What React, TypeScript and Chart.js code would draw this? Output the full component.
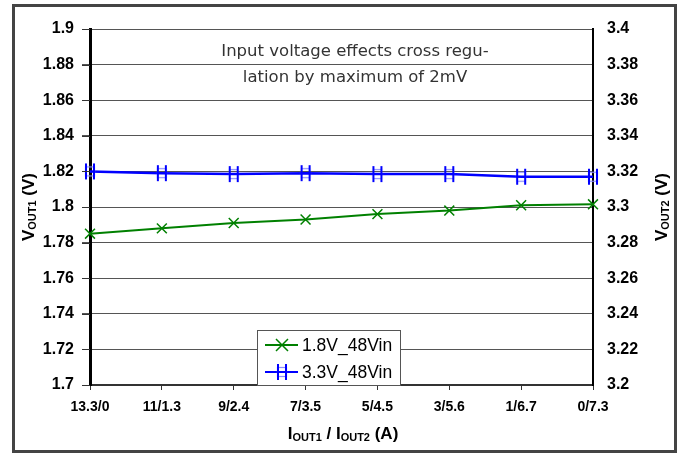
import React, { useEffect, useRef } from "react";
import { Chart, registerables } from "chart.js";

Chart.register(...registerables);

const categories = ["13.3/0", "11/1.3", "9/2.4", "7/3.5", "5/4.5", "3/5.6", "1/6.7", "0/7.3"];
const vout1Values = [1.785, 1.788, 1.791, 1.793, 1.796, 1.798, 1.801, 1.8015];
const vout2Values = [3.32, 3.319, 3.3185, 3.319, 3.3185, 3.3185, 3.317, 3.317];
const seriesNames = ["1.8V_48Vin", "3.3V_48Vin"];
const noteLines = ["Input voltage effects cross regu-", "lation by maximum of 2mV"];

const W = 681;
const H = 454;
const GREEN = "#008000";
const BLUE = "#0000ff";

function makeBlueMarker(): HTMLCanvasElement {
  const c = document.createElement("canvas");
  c.width = 16;
  c.height = 18;
  const ctx = c.getContext("2d")!;
  ctx.strokeStyle = "#8c8cff";
  ctx.lineWidth = 1.2;
  ctx.strokeRect(3.5, 4.5, 9, 9);
  ctx.strokeStyle = BLUE;
  ctx.lineWidth = 2;
  ctx.beginPath();
  ctx.moveTo(4, 1);
  ctx.lineTo(4, 17);
  ctx.moveTo(12, 1);
  ctx.lineTo(12, 17);
  ctx.stroke();
  return c;
}

function drawSubText(
  ctx: CanvasRenderingContext2D,
  parts: { t: string; sub?: boolean }[],
  big: number,
  small: number
) {
  let total = 0;
  const widths: number[] = [];
  for (const p of parts) {
    ctx.font = `bold ${p.sub ? small : big}px "Liberation Sans", Arial, sans-serif`;
    const w = ctx.measureText(p.t).width;
    widths.push(w);
    total += w;
  }
  let x = -total / 2;
  ctx.textAlign = "left";
  ctx.textBaseline = "alphabetic";
  parts.forEach((p, i) => {
    ctx.font = `bold ${p.sub ? small : big}px "Liberation Sans", Arial, sans-serif`;
    ctx.fillText(p.t, x, p.sub ? big * 0.36 + 2 : big * 0.36);
    x += widths[i];
  });
}

export default function App() {
  const ref = useRef<HTMLCanvasElement>(null);

  useEffect(() => {
    document.body.style.margin = "0";
    const blueMarker = makeBlueMarker();

    const decor = {
      id: "decor",
      beforeDraw(chart: any) {
        const ctx = chart.ctx as CanvasRenderingContext2D;
        ctx.save();
        ctx.fillStyle = "#fff";
        ctx.fillRect(0, 0, W, H);
        ctx.strokeStyle = "#444";
        ctx.lineWidth = 3;
        ctx.strokeRect(13.5, 5.5, 662, 446);
        ctx.restore();
      },
      afterDraw(chart: any) {
        const ctx = chart.ctx as CanvasRenderingContext2D;
        const ca = chart.chartArea;
        ctx.save();
        // tick marks on left axis
        ctx.strokeStyle = "#333";
        ctx.lineWidth = 1;
        const ys = chart.scales.y;
        ys.ticks.forEach((t: any) => {
          const py = Math.round(ys.getPixelForValue(t.value)) + 0.5;
          ctx.beginPath();
          ctx.moveTo(ca.left - 8, py);
          ctx.lineTo(ca.left, py);
          ctx.stroke();
        });

        // note text
        ctx.fillStyle = "#333";
        ctx.font = '16.5px "DejaVu Sans", sans-serif';
        ctx.textAlign = "center";
        ctx.textBaseline = "middle";
        ctx.fillText(noteLines[0], 355, 52);
        ctx.fillText(noteLines[1], 355, 78);

        // axis titles
        ctx.fillStyle = "#000";
        ctx.save();
        ctx.translate(28, (ca.top + ca.bottom) / 2);
        ctx.rotate(-Math.PI / 2);
        drawSubText(ctx, [{ t: "V" }, { t: "OUT1", sub: true }, { t: " (V)" }], 17, 11);
        ctx.restore();

        ctx.save();
        ctx.translate(661, (ca.top + ca.bottom) / 2);
        ctx.rotate(-Math.PI / 2);
        drawSubText(ctx, [{ t: "V" }, { t: "OUT2", sub: true }, { t: " (V)" }], 17, 11);
        ctx.restore();

        ctx.save();
        ctx.translate(343, 433);
        drawSubText(
          ctx,
          [{ t: "I" }, { t: "OUT1", sub: true }, { t: " / I" }, { t: "OUT2", sub: true }, { t: " (A)" }],
          17,
          11
        );
        ctx.restore();

        // legend
        const lx = 257.5, ly = 330.5, lw = 143, lh = 55;
        ctx.fillStyle = "#fff";
        ctx.fillRect(lx, ly, lw, lh);
        ctx.strokeStyle = "#555";
        ctx.lineWidth = 1;
        ctx.strokeRect(lx, ly, lw, lh);
        const rows = [345, 372];
        ctx.font = '17.5px "Liberation Sans", Arial, sans-serif';
        ctx.textAlign = "left";
        ctx.textBaseline = "middle";
        rows.forEach((ry, i) => {
          ctx.strokeStyle = i === 0 ? GREEN : BLUE;
          ctx.lineWidth = 2;
          ctx.beginPath();
          ctx.moveTo(265, ry);
          ctx.lineTo(298, ry);
          ctx.stroke();
          if (i === 0) {
            ctx.lineWidth = 1.5;
            ctx.beginPath();
            ctx.moveTo(276, ry - 6);
            ctx.lineTo(288, ry + 6);
            ctx.moveTo(288, ry - 6);
            ctx.lineTo(276, ry + 6);
            ctx.stroke();
          } else {
            ctx.drawImage(blueMarker, 282 - 8, ry - 9);
          }
          ctx.fillStyle = "#000";
          ctx.fillText(seriesNames[i], 302, ry + 1);
        });
        ctx.restore();
      },
    };

    const fmt = (v: any) => Number(Number(v).toFixed(2)).toString();

    const chart = new Chart(ref.current!, {
      type: "line",
      data: {
        labels: categories,
        datasets: [
          {
            label: seriesNames[0],
            data: vout1Values,
            yAxisID: "y",
            borderColor: GREEN,
            backgroundColor: GREEN,
            borderWidth: 2,
            pointStyle: "crossRot",
            pointRadius: 7,
            pointBorderWidth: 1.5,
            pointBorderColor: GREEN,
            tension: 0,
            clip: false as any,
          },
          {
            label: seriesNames[1],
            data: vout2Values,
            yAxisID: "y1",
            borderColor: BLUE,
            backgroundColor: BLUE,
            borderWidth: 2.5,
            pointStyle: blueMarker as any,
            pointRadius: 8,
            tension: 0,
            clip: false as any,
          },
        ],
      },
      options: {
        responsive: false,
        animation: false,
        layout: { padding: { top: 29, left: 0, right: 0, bottom: 0 } },
        plugins: {
          legend: { display: false },
          tooltip: { enabled: false },
          title: { display: false },
        },
        scales: {
          x: {
            type: "category",
            offset: false,
            afterFit: (s: any) => {
              s.height = 69;
            },
            grid: {
              drawOnChartArea: false,
              drawTicks: true,
              tickLength: 5,
              color: "#333",
            },
            border: { color: "#333", width: 2 },
            ticks: {
              color: "#000",
              font: { family: '"Liberation Sans", Arial, sans-serif', size: 14, weight: "bold" },
              padding: 9,
              maxRotation: 0,
              autoSkip: false,
            },
          },
          y: {
            position: "left",
            min: 1.7,
            max: 1.9,
            afterFit: (s: any) => {
              s.width = 90;
            },
            ticks: {
              stepSize: 0.02,
              callback: fmt,
              color: "#000",
              font: { family: '"Liberation Sans", Arial, sans-serif', size: 16, weight: "bold" },
              padding: 8,
            },
            grid: { color: "#555", lineWidth: 1, tickLength: 8 },
            border: { color: "#000", width: 3 },
          },
          y1: {
            position: "right",
            min: 3.2,
            max: 3.4,
            afterFit: (s: any) => {
              s.width = 88;
            },
            ticks: {
              stepSize: 0.02,
              callback: fmt,
              color: "#000",
              font: { family: '"Liberation Sans", Arial, sans-serif', size: 16, weight: "bold" },
              padding: 14,
            },
            grid: { display: true, drawOnChartArea: false, drawTicks: false },
            border: { color: "#000", width: 2 },
          },
        },
      } as any,
      plugins: [decor],
    });
    return () => chart.destroy();
  }, []);

  return (
    <canvas
      ref={ref}
      width={W}
      height={H}
      style={{ position: "fixed", left: 0, top: 0, width: W, height: H, display: "block" }}
    />
  );
}
